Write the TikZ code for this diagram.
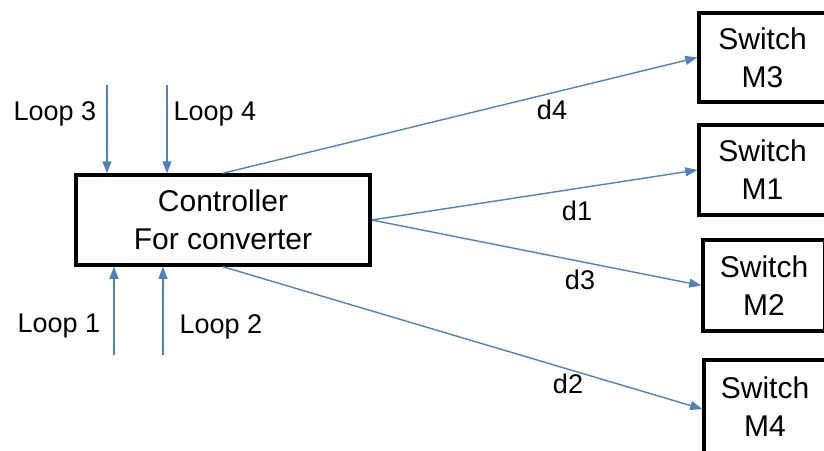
\documentclass[tikz,border=0pt]{standalone}
\usepackage{fontspec}
\setmainfont{Liberation Sans}
\usetikzlibrary{arrows.meta}
\definecolor{linkblue}{RGB}{79,129,189}
\begin{document}
\begin{tikzpicture}[x=1pt,y=-1pt,
  box/.style={draw=black, line width=3.5pt, rectangle, inner sep=0pt,
    align=center, font=\fontsize{30}{38}\selectfont},
  link/.style={draw=linkblue, line width=1.4pt,
    -{Triangle[length=12pt,width=9pt]}},
  lbl/.style={font=\fontsize{27}{32}\selectfont, inner sep=0pt, anchor=base}]
\useasboundingbox (0,0) rectangle (824,450);
\clip (0,0) rectangle (824,450);

% controller and the four switches
\node[box, minimum width=294pt, minimum height=90pt] (ctrl) at (223,220) {Controller\\For converter};
\node[box, minimum width=127pt, minimum height=89pt] (m3) at (762.5,57.5) {Switch\\M3};
\node[box, minimum width=127pt, minimum height=90pt] (m1) at (762.5,170) {Switch\\M1};
\node[box, minimum width=122pt, minimum height=91pt] (m2) at (764,285.5) {Switch\\M2};
\node[box, minimum width=122pt, minimum height=94pt] (m4) at (765,407) {Switch\\M4};

% loop inputs
\coordinate (l3) at (107,85);
\coordinate (l4) at (167,85);
\coordinate (l1) at (114,355);
\coordinate (l2) at (163,355);
\draw[link] (l3) -- (l3 |- ctrl.north);
\draw[link] (l4) -- (l4 |- ctrl.north);
\draw[link] (l1) -- (l1 |- ctrl.south);
\draw[link] (l2) -- (l2 |- ctrl.south);
\node[lbl] (t3) at (55,120) {Loop 3};
\node[lbl] (t4) at (215,120) {Loop 4};
\node[lbl] (t1) at (59,332) {Loop 1};
\node[lbl] (t2) at (221,333) {Loop 2};

% duty-cycle outputs
\draw[link] (ctrl.north) -- (m3.west);
\draw[link] (ctrl.east) -- (m1.west);
\draw[link] (ctrl.east) -- (m2.west);
\draw[link] (ctrl.south) -- ([yshift=-2pt]m4.west);
\node[lbl] (d4) at (552,119) {d4};
\node[lbl] (d1) at (577,220) {d1};
\node[lbl] (d3) at (580,289) {d3};
\node[lbl] (d2) at (568,393) {d2};
\end{tikzpicture}
\end{document}
